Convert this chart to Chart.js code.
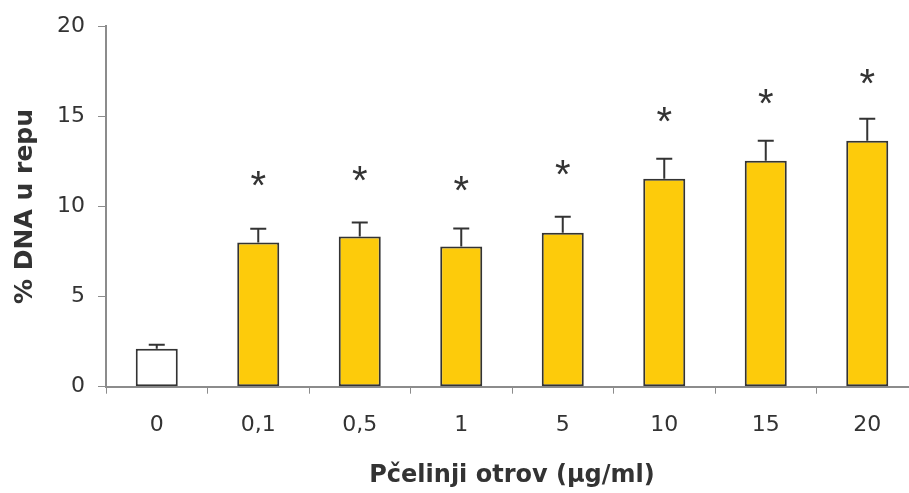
<!DOCTYPE html>
<html>
<head>
<meta charset="utf-8">
<script src="https://cdn.jsdelivr.net/npm/chart.js@4/dist/chart.umd.min.js"></script>
<style>
  html, body { margin: 0; padding: 0; background: #fff; overflow: hidden; }
  #wrap { width: 909px; height: 493px; overflow: hidden; }
</style>
</head>
<body>
<div id="wrap"><canvas id="grafik" width="920" height="493"></canvas></div>
<script>
// koncentracije pcelinjeg otrova (µg/ml)
const kategorije = ['0', '0,1', '0,5', '1', '5', '10', '15', '20'];
// srednja vrijednost % DNA u repu
const vrijednosti = [2.1, 8.0, 8.33, 7.78, 8.54, 11.54, 12.54, 13.65];
// gornja granica greske (sredina + SE)
const greske = [2.33, 8.76, 9.11, 8.78, 9.43, 12.65, 13.65, 14.87];
// polozaj zvjezdica (statisticka znacajnost), null = bez zvjezdice
const zvjezdice = [null, 11.54, 11.85, 11.3, 12.15, 15.1, 16.1, 17.2];
const yTicks = [0, 5, 10, 15, 20];

const tamna = '#333333';
const osi = '#8c8c8c';
const font = '"DejaVu Sans", Verdana, sans-serif';

// error bars i zvjezdice
const dodaci = {
    id: 'dodaci',
    afterDatasetsDraw(chart) {
        const ctx = chart.ctx;
        const x = chart.scales.x;
        const y = chart.scales.y;
        ctx.save();
        ctx.strokeStyle = tamna;
        ctx.lineWidth = 2;
        for (let i = 0; i < kategorije.length; i++) {
            const px = x.getPixelForValue(i);
            const y0 = y.getPixelForValue(vrijednosti[i]);
            const y1 = y.getPixelForValue(greske[i]);
            ctx.beginPath();
            ctx.moveTo(px, y0);
            ctx.lineTo(px, y1);
            ctx.moveTo(px - 8, y1);
            ctx.lineTo(px + 8, y1);
            ctx.stroke();
        }
        ctx.fillStyle = tamna;
        ctx.font = '40px "Liberation Sans", Arial, sans-serif';
        ctx.textAlign = 'center';
        ctx.textBaseline = 'alphabetic';
        const m = ctx.measureText('*');
        const pomak = (m.actualBoundingBoxAscent - m.actualBoundingBoxDescent) / 2;
        for (let i = 0; i < kategorije.length; i++) {
            if (zvjezdice[i] == null) continue;
            const px = x.getPixelForValue(i);
            const py = y.getPixelForValue(zvjezdice[i]);
            ctx.fillText('*', px, py + pomak);
        }
        ctx.restore();
    }
};

const ctx = document.getElementById('grafik').getContext('2d');
const grafik = new Chart(ctx, {
    type: 'bar',
    data: {
        labels: kategorije,
        datasets: [{
            data: vrijednosti,
            backgroundColor: vrijednosti.map((v, i) => i === 0 ? '#ffffff' : '#fdcb0b'),
            borderColor: tamna,
            borderWidth: 2,
            borderSkipped: false,
            categoryPercentage: 1,
            barPercentage: 0.414
        }]
    },
    options: {
        responsive: false,
        animation: false,
        layout: { padding: { left: 0, right: 2, top: 0, bottom: 0 } },
        plugins: {
            legend: { display: false },
            tooltip: { enabled: false }
        },
        scales: {
            x: {
                grid: {
                    display: true,
                    drawOnChartArea: false,
                    color: osi,
                    tickLength: 7,
                    offset: true
                },
                border: { color: osi, width: 2 },
                ticks: {
                    color: tamna,
                    padding: 18,
                    font: { family: font, size: 22 }
                },
                title: {
                    display: true,
                    text: 'Pčelinji otrov (µg/ml)',
                    color: tamna,
                    padding: { top: 0, bottom: 3 },
                    font: { family: font, size: 24, weight: 'bold' }
                },
                afterFit(scale) { scale.height = 493 - 386.7; }
            },
            y: {
                min: 0,
                max: 20,
                afterBuildTicks(scale) { scale.ticks = yTicks.map(v => ({ value: v })); },
                grid: {
                    display: true,
                    drawOnChartArea: false,
                    color: osi,
                    tickLength: 8
                },
                border: { color: osi, width: 2 },
                ticks: {
                    color: tamna,
                    padding: 13,
                    font: { family: font, size: 22 }
                },
                title: {
                    display: true,
                    text: '% DNA u repu',
                    color: tamna,
                    padding: { top: 10, bottom: 0 },
                    font: { family: font, size: 25, weight: 'bold' }
                },
                afterFit(scale) { scale.width = 106; }
            }
        }
    },
    plugins: [dodaci]
});
</script>
</body>
</html>
